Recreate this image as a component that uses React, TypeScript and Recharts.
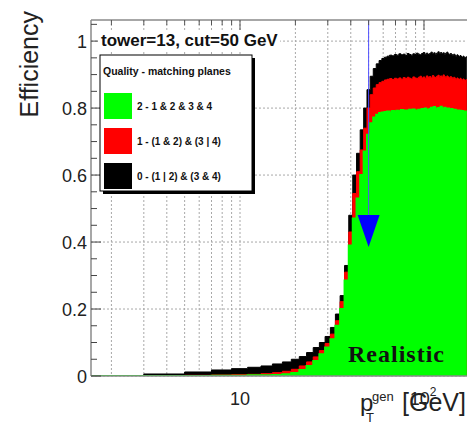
import {
  AreaChart,
  Area,
  XAxis,
  YAxis,
  CartesianGrid,
  ReferenceLine,
} from "recharts";

const FONT = '"Liberation Sans", Arial, sans-serif';
const SERIF = '"Liberation Serif", "Times New Roman", serif';

const chartW = 467;
const chartH = 426;
const marginTop = 20;
const xAxisH = 50;
const yAxisW = 91;
const plotH = chartH - marginTop - xAxisH;

// generated pT bin edges [GeV], 2 GeV wide
const ptEdges = [
  1, 3, 5, 7, 9, 11, 13, 15, 17, 19, 21, 23, 25, 27, 29, 31, 33, 35, 37, 39,
  41, 43, 45, 47, 49, 51, 53, 55, 57, 59, 61, 63, 65, 67, 69, 71, 73, 75, 77,
  79, 81, 83, 85, 87, 89, 91, 93, 95, 97, 99, 101, 103, 105, 107, 109, 111,
  113, 115, 117, 119, 121, 123, 125, 127, 129, 131, 133, 135, 137, 139, 141,
  143, 145, 147, 149, 151, 153, 155, 157, 159, 161, 163, 165, 167, 169, 171,
];

// quality >= 0 (black)
const effQ0 = [
  0, 0.006, 0.012, 0.018, 0.022, 0.026, 0.03, 0.036, 0.042, 0.05, 0.058, 0.07,
  0.085, 0.1, 0.118, 0.145, 0.185, 0.24, 0.33, 0.48, 0.6, 0.665, 0.735, 0.8,
  0.855, 0.895, 0.918, 0.932, 0.942, 0.948,
  0.952, 0.955, 0.958, 0.956, 0.96, 0.958, 0.962, 0.959, 0.961, 0.957,
  0.963, 0.96, 0.958, 0.962, 0.96, 0.964, 0.961, 0.959, 0.963, 0.966,
  0.961, 0.964, 0.96, 0.963, 0.967, 0.962, 0.965, 0.961, 0.964, 0.968,
  0.963, 0.966, 0.962, 0.965, 0.96, 0.964, 0.967, 0.962, 0.959, 0.963,
  0.96, 0.957, 0.961, 0.958, 0.955, 0.959, 0.956, 0.953, 0.957, 0.954,
  0.951, 0.955, 0.952, 0.95, 0.953,
];

// quality >= 1 (red)
const effQ1 = [
  0, 0.001, 0.002, 0.003, 0.004, 0.005, 0.007, 0.01, 0.014, 0.02, 0.03, 0.042,
  0.057, 0.076, 0.097, 0.125, 0.165, 0.222, 0.31, 0.43, 0.545, 0.61, 0.675,
  0.74, 0.8, 0.84, 0.86, 0.87, 0.876, 0.88,
  0.884, 0.886, 0.888, 0.885, 0.889, 0.887, 0.89, 0.886, 0.891, 0.888,
  0.892, 0.889, 0.887, 0.893, 0.89, 0.888, 0.892, 0.895, 0.89, 0.893,
  0.889, 0.896, 0.892, 0.894, 0.89, 0.897, 0.893, 0.891, 0.895, 0.898,
  0.892, 0.896, 0.893, 0.899, 0.894, 0.891, 0.896, 0.893, 0.89, 0.894,
  0.891, 0.888, 0.892, 0.889, 0.886, 0.89, 0.887, 0.885, 0.889, 0.886,
  0.883, 0.887, 0.884, 0.882, 0.885,
];

// quality 2 (green)
const effQ2 = [
  0, 0, 0, 0.001, 0.001, 0.002, 0.002, 0.003, 0.005, 0.009, 0.018, 0.03,
  0.045, 0.065, 0.085, 0.11, 0.15, 0.2, 0.285, 0.39, 0.47, 0.53, 0.6, 0.67,
  0.72, 0.755, 0.772, 0.78, 0.785, 0.787,
  0.788, 0.79, 0.787, 0.791, 0.789, 0.792, 0.79, 0.794, 0.791, 0.793,
  0.79, 0.795, 0.792, 0.796, 0.793, 0.791, 0.795, 0.792, 0.797, 0.794,
  0.799, 0.795, 0.792, 0.797, 0.801, 0.796, 0.803, 0.798, 0.795, 0.8,
  0.797, 0.804, 0.799, 0.796, 0.801, 0.798, 0.795, 0.799, 0.796, 0.793,
  0.797, 0.794, 0.791, 0.795, 0.792, 0.789, 0.793, 0.79, 0.792, 0.788,
  0.791, 0.789, 0.786, 0.79, 0.787,
];

const ptGridTicks = [2, 3, 4, 5, 6, 7, 8, 9, 10, 20, 30, 40, 50, 60, 70, 80, 90, 100];
const ptMajorTicks = [10, 100];
const effTicks = [0, 0.2, 0.4, 0.6, 0.8, 1];
const effAllTicks = [
  0, 0.05, 0.1, 0.15, 0.2, 0.25, 0.3, 0.35, 0.4, 0.45, 0.5, 0.55, 0.6, 0.65,
  0.7, 0.75, 0.8, 0.85, 0.9, 0.95, 1, 1.05,
];

const legendLabels = [
  "2 - 1 & 2 & 3 & 4",
  "1 - (1 & 2) & (3 | 4)",
  "0 - (1 | 2) & (3 & 4)",
];
const legendColors = ["#00ff00", "#ff0000", "#000000"];

const cutPt = 50;
const arrowTop = 1.063;
const arrowTip = 0.385;

const ptDomain = [1.549, 171.3];
const effDomain = [0, 1.063];

const data = ptEdges.map((pt, i) => {
  const j = Math.min(i, effQ0.length - 1);
  return { pt, q0: effQ0[j], q1: effQ1[j], q2: effQ2[j] };
});

// y labels on majors, inward tick marks on every tick
function EffTick({ x, y, payload }: any) {
  const v = payload.value as number;
  const major = effTicks.includes(v);
  const axisX = x + 4;
  return (
    <g>
      <line x1={axisX} y1={y} x2={axisX + (major ? 10 : 6)} y2={y} stroke="#444" strokeWidth={1} />
      {major && (
        <text x={x} y={y} dy={6.5} textAnchor="end" fontFamily={FONT} fontSize={18} fill="#222">
          {v === 0 || v === 1 ? String(v) : v.toFixed(1)}
        </text>
      )}
    </g>
  );
}

// x labels on 10 and 10^2, inward tick marks along the frame top
function PtTick({ x, y, payload }: any) {
  const v = payload.value as number;
  const top = y - plotH;
  const len = ptMajorTicks.includes(v) ? 10 : 5;
  return (
    <g>
      <line x1={x} y1={top} x2={x} y2={top + len} stroke="#555" strokeWidth={1} />
      {v === 10 && (
        <text x={x} y={y + 29} textAnchor="middle" fontFamily={FONT} fontSize={18} fill="#222">
          10
        </text>
      )}
      {v === 100 && (
        <text x={x - 1} y={y + 29} textAnchor="middle" fontFamily={FONT} fontSize={18} fill="#222">
          10
          <tspan dy={-9} fontSize={12}>
            2
          </tspan>
        </text>
      )}
    </g>
  );
}

function YTitle({ viewBox }: any) {
  const x = viewBox.x + 38;
  const y = viewBox.y - 9;
  const frameY = viewBox.y;
  return (
    <g>
      <line
        x1={viewBox.x + viewBox.width}
        y1={frameY}
        x2={chartW}
        y2={frameY}
        stroke="#8a8a8a"
        strokeWidth={1.5}
      />
      <text
        x={x}
        y={y}
        transform={`rotate(-90 ${x} ${y})`}
        textAnchor="end"
        fontFamily={FONT}
        fontSize={25}
        fill="#222"
      >
        Efficiency
      </text>
    </g>
  );
}

function XTitle({ viewBox }: any) {
  const r = viewBox.x + viewBox.width;
  const y = viewBox.y + 35;
  return (
    <g fontFamily={FONT} fill="#222">
      <text x={r - 107} y={y} fontSize={24}>
        p
      </text>
      <text x={r - 95} y={y - 10} fontSize={13}>
        gen
      </text>
      <text x={r - 101} y={y + 11} fontSize={13}>
        T
      </text>
      <text x={r - 1} y={y} fontSize={25} textAnchor="end">
        [GeV]
      </text>
    </g>
  );
}

function CutArrow({ x1, y1, y2 }: any) {
  const h = 32;
  const w = 11;
  return (
    <g>
      <line x1={x1} y1={y1} x2={x1} y2={y2 - h} stroke="#5050ff" strokeWidth={1} />
      <polygon
        points={`${x1 - w},${y2 - h} ${x1 + w},${y2 - h} ${x1},${y2}`}
        fill="#0000ff"
      />
    </g>
  );
}

export default function App() {
  return (
    <div style={{ position: "absolute", left: 0, top: 0, width: chartW, height: chartH, background: "#fff" }}>
      <AreaChart
        width={chartW}
        height={chartH}
        data={data}
        margin={{ top: marginTop, right: 0, bottom: 0, left: 0 }}
      >
        <CartesianGrid
          stroke="#a8a8a8"
          strokeDasharray="2 2"
          horizontalValues={effTicks}
          verticalValues={ptGridTicks}
        />
        <Area
          type="stepAfter"
          dataKey="q0"
          stroke="#000000"
          strokeWidth={1}
          fill="#000000"
          fillOpacity={1}
          isAnimationActive={false}
        />
        <Area
          type="stepAfter"
          dataKey="q1"
          stroke="#ff0000"
          strokeWidth={1}
          fill="#ff0000"
          fillOpacity={1}
          isAnimationActive={false}
        />
        <Area
          type="stepAfter"
          dataKey="q2"
          stroke="#00ff00"
          strokeWidth={2}
          fill="#00ff00"
          fillOpacity={1}
          isAnimationActive={false}
        />
        <ReferenceLine
          segment={[
            { x: cutPt, y: arrowTop },
            { x: cutPt, y: arrowTip },
          ]}
          shape={CutArrow}
        />
        <XAxis
          dataKey="pt"
          type="number"
          scale="log"
          domain={ptDomain}
          allowDataOverflow
          ticks={ptGridTicks}
          interval={0}
          height={xAxisH}
          tickSize={0}
          tickMargin={0}
          tickLine={false}
          axisLine={{ stroke: "#8a8a8a", strokeWidth: 1.5 }}
          tick={<PtTick />}
          label={{ content: <XTitle /> }}
        />
        <YAxis
          type="number"
          domain={effDomain}
          allowDataOverflow
          ticks={effAllTicks}
          interval={0}
          width={yAxisW}
          tickSize={0}
          tickMargin={4}
          tickLine={false}
          axisLine={{ stroke: "#8a8a8a", strokeWidth: 1.5 }}
          tick={<EffTick />}
          label={{ content: <YTitle /> }}
        />
      </AreaChart>

      <svg
        width={chartW}
        height={chartH}
        style={{ position: "absolute", left: 0, top: 0, pointerEvents: "none" }}
      >
        <rect x={98} y={31} width={182} height={21} fill="#fff" />
        <text x={101} y={46} fontFamily={FONT} fontSize={17} fontWeight="bold" fill="#111">
          tower=13, cut=50 GeV
        </text>

        <rect x={103} y={58} width={152} height={136} fill="#000" />
        <rect x={100} y={55} width={152} height={136} fill="#fff" stroke="#000" strokeWidth={1} />
        <text x={103} y={75} fontFamily={FONT} fontSize={10.5} fontWeight="bold" fill="#111">
          Quality - matching planes
        </text>
        {legendLabels.map((label, i) => (
          <g key={label}>
            <rect x={104} y={93 + i * 35} width={28} height={26} fill={legendColors[i]} />
            <text
              x={137}
              y={110 + i * 35}
              fontFamily={FONT}
              fontSize={10}
              fontWeight="bold"
              fill="#111"
            >
              {label}
            </text>
          </g>
        ))}

        <text
          x={348}
          y={362}
          fontFamily={SERIF}
          fontSize={24}
          fontWeight="bold"
          letterSpacing={1}
          fill="#111"
        >
          Realistic
        </text>
      </svg>
    </div>
  );
}
